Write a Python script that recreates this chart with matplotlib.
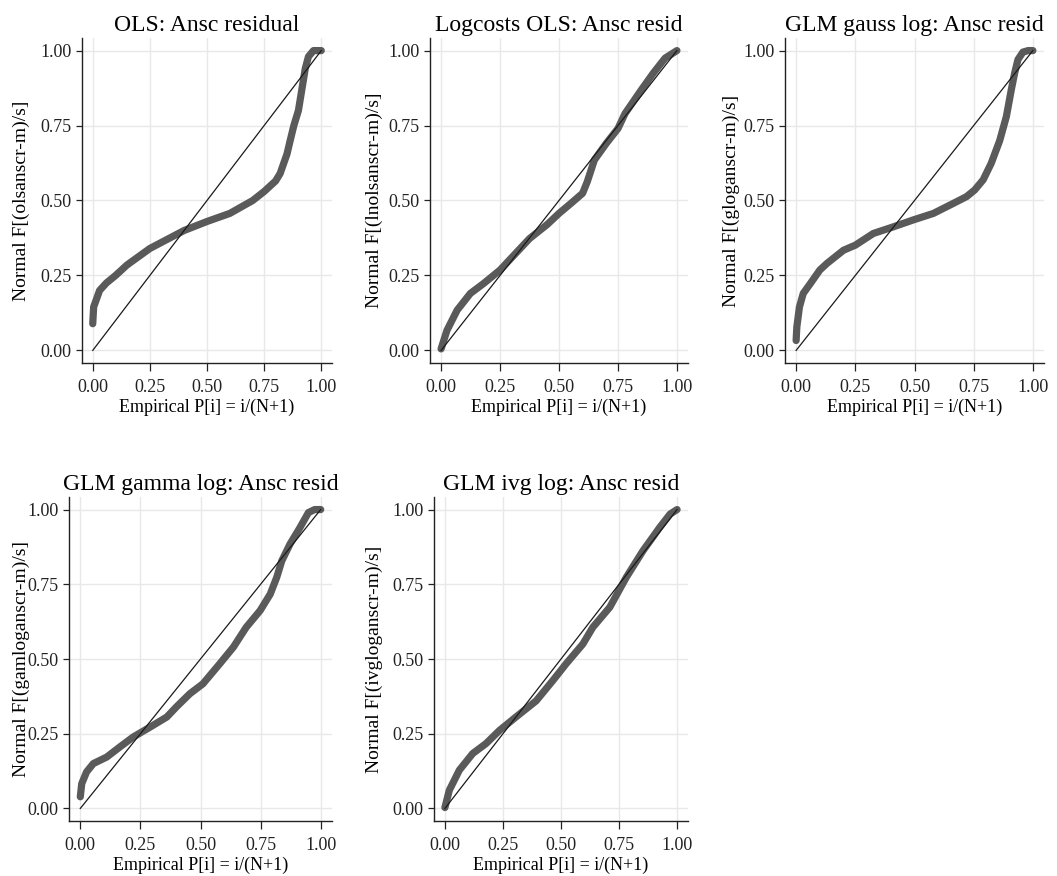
import matplotlib
matplotlib.use("Agg")
import matplotlib.pyplot as plt

plt.rcParams['font.family'] = ['Liberation Serif', 'DejaVu Serif']

W, H = 1057, 876

titles = ["OLS: Ansc residual", "Logcosts OLS: Ansc resid", "GLM gauss log: Ansc resid",
          "GLM gamma log: Ansc resid", "GLM ivg log: Ansc resid"]
ylabels = ["Normal F[(olsanscr-m)/s]", "Normal F[(lnolsanscr-m)/s]", "Normal F[(gloganscr-m)/s]",
           "Normal F[(gamloganscr-m)/s]", "Normal F[(ivgloganscr-m)/s]"]
xlabel = "Empirical P[i] = i/(N+1)"
ticks = [0, 0.25, 0.5, 0.75, 1.0]
ticklabels = ["0.00", "0.25", "0.50", "0.75", "1.00"]

# empirical P vs normal F for each model's anscombe residuals
ols_p = [0.0, 0.004, 0.03, 0.06, 0.10, 0.15, 0.25, 0.35, 0.40, 0.50, 0.60, 0.70, 0.75, 0.80, 0.82,
         0.85, 0.864, 0.88, 0.90, 0.915, 0.93, 0.944, 0.966, 0.985, 1.0]
ols_f = [0.089, 0.145, 0.20, 0.225, 0.25, 0.285, 0.34, 0.38, 0.40, 0.43, 0.457, 0.50, 0.53, 0.565, 0.59,
         0.655, 0.70, 0.75, 0.80, 0.87, 0.94, 0.98, 1.0, 1.0, 1.0]

lnols_p = [0.0, 0.025, 0.068, 0.124, 0.18, 0.25, 0.30, 0.375, 0.45, 0.50, 0.55, 0.60, 0.62, 0.65, 0.70,
           0.75, 0.78, 0.85, 0.90, 0.95, 1.0]
lnols_f = [0.005, 0.067, 0.134, 0.19, 0.223, 0.268, 0.31, 0.373, 0.42, 0.457, 0.49, 0.524, 0.563, 0.635,
           0.69, 0.74, 0.79, 0.87, 0.925, 0.975, 1.0]

glog_p = [0.0, 0.003, 0.014, 0.03, 0.06, 0.10, 0.13, 0.20, 0.25, 0.326, 0.41, 0.494, 0.58, 0.663, 0.72,
          0.754, 0.79, 0.824, 0.86, 0.888, 0.909, 0.923, 0.937, 0.958, 0.98, 1.0]
glog_f = [0.033, 0.078, 0.145, 0.19, 0.223, 0.268, 0.29, 0.334, 0.351, 0.39, 0.412, 0.435, 0.457, 0.49,
          0.513, 0.535, 0.569, 0.624, 0.70, 0.78, 0.87, 0.925, 0.97, 0.995, 1.0, 1.0]

gam_p = [0.0, 0.006, 0.026, 0.054, 0.11, 0.165, 0.22, 0.29, 0.36, 0.40, 0.456, 0.51, 0.58, 0.637, 0.69,
         0.748, 0.79, 0.817, 0.838, 0.872, 0.914, 0.949, 0.975, 1.0]
gam_f = [0.039, 0.083, 0.122, 0.15, 0.172, 0.206, 0.239, 0.272, 0.306, 0.34, 0.384, 0.417, 0.484, 0.54,
         0.606, 0.662, 0.717, 0.773, 0.828, 0.884, 0.94, 0.99, 1.0, 1.0]

ivg_p = [0.0, 0.019, 0.062, 0.12, 0.177, 0.235, 0.306, 0.393, 0.465, 0.522, 0.594, 0.637, 0.71, 0.781,
         0.853, 0.925, 0.97, 1.0]
ivg_f = [0.003, 0.061, 0.128, 0.184, 0.217, 0.261, 0.306, 0.36, 0.428, 0.484, 0.55, 0.606, 0.673, 0.773,
         0.862, 0.94, 0.985, 1.0]

series = [(ols_p, ols_f), (lnols_p, lnols_f), (glog_p, glog_f), (gam_p, gam_f), (ivg_p, ivg_f)]

# axes boxes in pixels: left, right, top, bottom
boxes = [(82, 332, 38, 363), (430, 688, 38, 363), (785, 1044, 38, 363),
         (69, 332, 497, 821), (434, 688, 497, 821)]
# right edge of each rotated y label, in pixels
ylab_x = [30, 383, 740, 30, 383]

fig = plt.figure(figsize=(W / 100, H / 100), dpi=100)
fig.patch.set_facecolor("white")

for i in range(5):
    l, r, t, b = boxes[i]
    ax = fig.add_axes([l / W, 1 - b / H, (r - l) / W, (b - t) / H])
    p, f = series[i]
    ax.plot(p, f, color="#5a5a5a", lw=5.2, solid_capstyle="round", solid_joinstyle="round", zorder=3)
    ax.plot([0, 1], [0, 1], color="#1a1a1a", lw=0.9, zorder=4)
    ax.set_xlim(-0.047, 1.047)
    ax.set_ylim(-0.042, 1.042)
    ax.set_xticks(ticks)
    ax.set_yticks(ticks)
    ax.set_xticklabels(ticklabels)
    ax.set_yticklabels(ticklabels)
    ax.grid(True, color="#e8e8e8", lw=1.0, zorder=0)
    ax.set_axisbelow(True)
    for s in ["top", "right"]:
        ax.spines[s].set_visible(False)
    for s in ["left", "bottom"]:
        ax.spines[s].set_linewidth(1.0)
        ax.spines[s].set_color("#222222")
    ax.tick_params(axis="x", length=6, width=0.9, pad=5.5, labelsize=13, colors="#222222")
    ax.tick_params(axis="y", length=4.5, width=0.9, pad=3, labelsize=13, colors="#222222")
    ax.set_title(titles[i], fontsize=17, pad=5)
    ax.set_xlabel(xlabel, fontsize=13)
    ax.set_ylabel(ylabels[i], fontsize=14)
    ax.xaxis.set_label_coords(((l + r) / 2) / W, 1 - (b + 36) / H, transform=fig.transFigure)
    ax.yaxis.set_label_coords(ylab_x[i] / W, 1 - ((t + b) / 2) / H, transform=fig.transFigure)

fig.savefig("out.png", dpi=100)
